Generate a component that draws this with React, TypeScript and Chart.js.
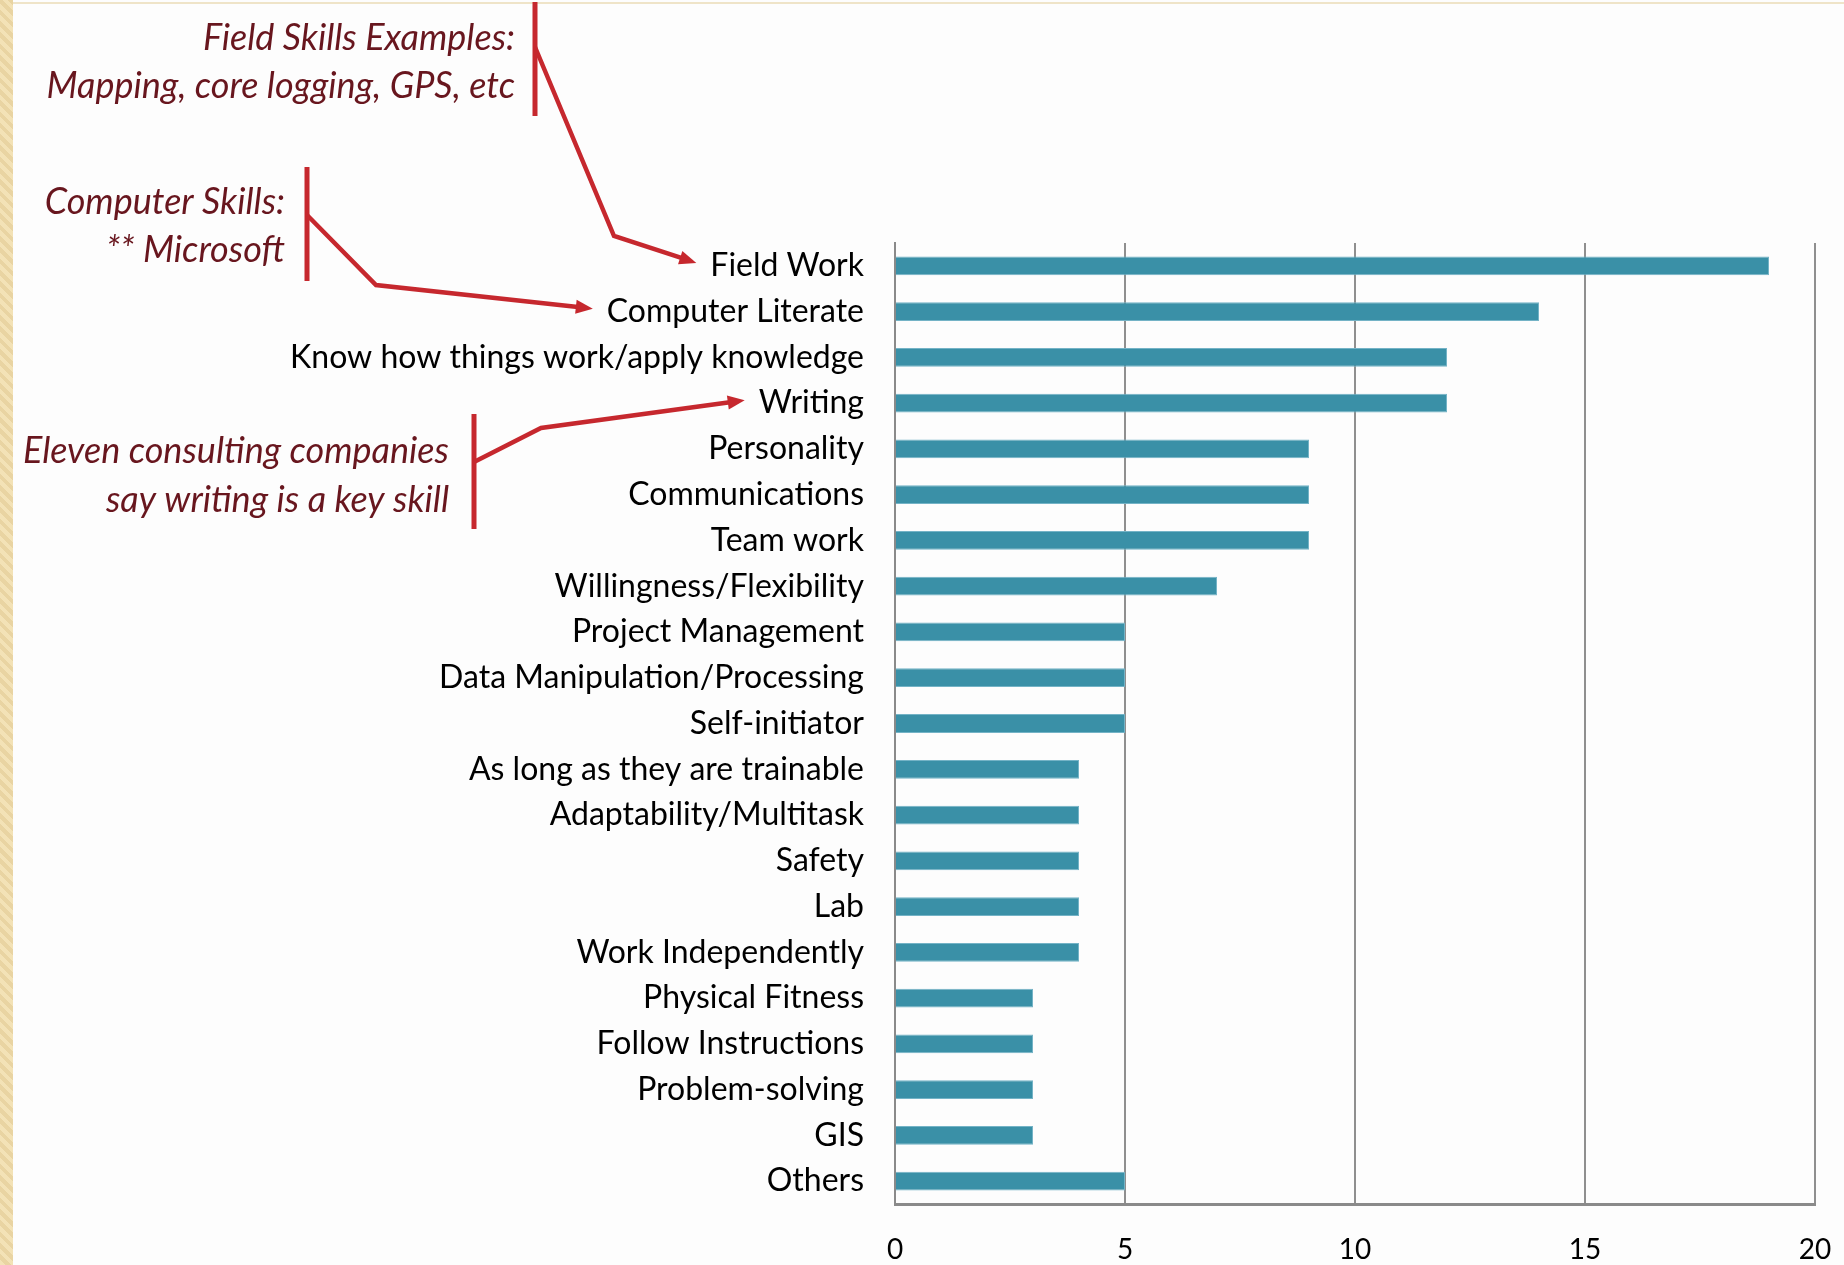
import React, { useEffect, useRef } from "react";
import { Chart, registerables } from "chart.js";

Chart.register(...registerables);

const categories: string[] = [
  "Field Work",
  "Computer Literate",
  "Know how things work/apply knowledge",
  "Writing",
  "Personality",
  "Communications",
  "Team work",
  "Willingness/Flexibility",
  "Project Management",
  "Data Manipulation/Processing",
  "Self-initiator",
  "As long as they are trainable",
  "Adaptability/Multitask",
  "Safety",
  "Lab",
  "Work Independently",
  "Physical Fitness",
  "Follow Instructions",
  "Problem-solving",
  "GIS",
  "Others",
];

const counts: number[] = [19, 14, 12, 12, 9, 9, 9, 7, 5, 5, 5, 4, 4, 4, 4, 4, 3, 3, 3, 3, 5];

const xMin = 0;
const xMax = 20;
const xStep = 5;

const noteFieldLines: string[] = ["Field Skills Examples:", "Mapping, core logging, GPS, etc"];
const noteComputerLines: string[] = ["Computer Skills:", "** Microsoft"];
const noteWritingLines: string[] = ["Eleven consulting companies", "say writing is a key skill"];

const LABEL_FONT = "Lato";
const LABEL_SIZE = 32;
const Y_PAD = 31;
const NOTE_SIZE = 36;
const NOTE_COLOR = "rgb(104,22,30)";
const LINE_COLOR = "rgb(198,40,46)";

type Note = {
  lines: string[];
  target: string;
  textRight: number;
  textYs: number[];
  barX: number;
  barTop: number;
  barBottom: number;
  start: [number, number];
  elbow: [number, number];
};

const notes: Note[] = [
  {
    lines: noteFieldLines,
    target: "Field Work",
    textRight: 515,
    textYs: [38, 86],
    barX: 535,
    barTop: 2,
    barBottom: 116,
    start: [535, 47],
    elbow: [614, 236],
  },
  {
    lines: noteComputerLines,
    target: "Computer Literate",
    textRight: 285,
    textYs: [202, 250],
    barX: 307,
    barTop: 167,
    barBottom: 281,
    start: [307, 215],
    elbow: [376, 285],
  },
  {
    lines: noteWritingLines,
    target: "Writing",
    textRight: 449,
    textYs: [451, 500],
    barX: 474,
    barTop: 414,
    barBottom: 529,
    start: [474, 462],
    elbow: [541, 428],
  },
];

const notesPlugin = {
  id: "notes",
  afterDraw(chart: any) {
    const ctx: CanvasRenderingContext2D = chart.ctx;
    const yScale = chart.scales.y;
    ctx.save();
    for (const n of notes) {
      ctx.font = `italic ${NOTE_SIZE}px ${LABEL_FONT}`;
      ctx.fillStyle = NOTE_COLOR;
      ctx.textAlign = "right";
      ctx.textBaseline = "middle";
      n.lines.forEach((t, i) => ctx.fillText(t, n.textRight, n.textYs[i]));
      ctx.fillStyle = LINE_COLOR;
      ctx.fillRect(n.barX - 2.5, n.barTop, 5, n.barBottom - n.barTop);
      const idx = categories.indexOf(n.target);
      const cy = yScale.getPixelForValue(idx);
      ctx.font = `${LABEL_SIZE}px ${LABEL_FONT}`;
      const w = ctx.measureText(n.target).width;
      const tipX = yScale.right - Y_PAD - w - 14;
      const tipY = cy - 3;
      const dx = tipX - n.elbow[0];
      const dy = tipY - n.elbow[1];
      const len = Math.hypot(dx, dy);
      const ux = dx / len;
      const uy = dy / len;
      const headLen = 17;
      const headHalf = 7;
      ctx.strokeStyle = LINE_COLOR;
      ctx.lineWidth = 4.5;
      ctx.lineJoin = "miter";
      ctx.beginPath();
      ctx.moveTo(n.start[0], n.start[1]);
      ctx.lineTo(n.elbow[0], n.elbow[1]);
      ctx.lineTo(tipX - ux * (headLen - 2), tipY - uy * (headLen - 2));
      ctx.stroke();
      ctx.beginPath();
      ctx.moveTo(tipX, tipY);
      ctx.lineTo(tipX - ux * headLen - uy * headHalf, tipY - uy * headLen + ux * headHalf);
      ctx.lineTo(tipX - ux * headLen + uy * headHalf, tipY - uy * headLen - ux * headHalf);
      ctx.closePath();
      ctx.fill();
    }
    ctx.restore();
  },
};

export default function App() {
  const canvasRef = useRef<HTMLCanvasElement | null>(null);

  useEffect(() => {
    const canvas = canvasRef.current;
    if (!canvas) return;
    const chart = new Chart(canvas, {
      type: "bar",
      data: {
        labels: categories,
        datasets: [
          {
            data: counts,
            backgroundColor: "#3A90A7",
            borderColor: "#74B3C6",
            borderWidth: 1,
            barPercentage: 0.82,
            categoryPercentage: 0.5,
          },
        ],
      },
      options: {
        indexAxis: "y",
        responsive: false,
        animation: false,
        events: [],
        layout: { padding: { top: 243, right: 29, bottom: 0, left: 0 } },
        plugins: {
          legend: { display: false },
          tooltip: { enabled: false },
        },
        scales: {
          x: {
            min: xMin,
            max: xMax,
            afterFit: (scale: any) => {
              scale.height = 61;
              scale.paddingLeft = 0;
              scale.paddingRight = 0;
            },
            grid: { display: true, color: "#8f8f8f", lineWidth: 2, drawTicks: false },
            border: { display: true, color: "#8a8a8a", width: 3 },
            ticks: {
              stepSize: xStep,
              padding: 29,
              color: "#000",
              font: { family: LABEL_FONT, size: 28 },
            },
          },
          y: {
            afterFit: (scale: any) => {
              scale.width = 895;
            },
            grid: { display: false, drawTicks: false },
            border: { display: true, color: "#8a8a8a", width: 2 },
            ticks: {
              autoSkip: false,
              padding: Y_PAD,
              color: "#000",
              font: { family: LABEL_FONT, size: LABEL_SIZE },
            },
          },
        },
      },
      plugins: [notesPlugin],
    });
    return () => chart.destroy();
  }, []);

  return (
    <div
      style={{
        position: "fixed",
        left: 0,
        top: 0,
        width: 1844,
        height: 1265,
        background: "#fdfdfd",
        overflow: "hidden",
      }}
    >
      <div
        style={{
          position: "absolute",
          left: 0,
          top: 0,
          width: 13,
          height: 1265,
          background:
            "repeating-linear-gradient(45deg, #f3e2b6 0px, #f3e2b6 4px, #e9d4a2 4px, #e9d4a2 8px)",
        }}
      />
      <div
        style={{
          position: "absolute",
          left: 13,
          top: 2,
          width: 1831,
          height: 2,
          background: "#efe4c8",
        }}
      />
      <canvas
        ref={canvasRef}
        width={1844}
        height={1265}
        style={{ position: "absolute", left: 0, top: 0, width: 1844, height: 1265 }}
      />
    </div>
  );
}
